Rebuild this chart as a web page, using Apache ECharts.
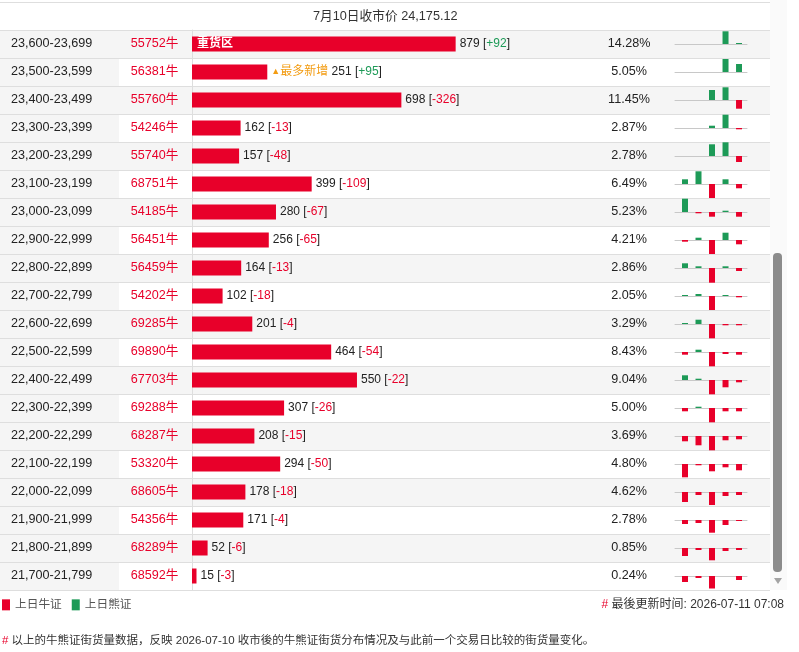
<!DOCTYPE html>
<html><head><meta charset="utf-8">
<script src="https://cdn.jsdelivr.net/npm/echarts@6/dist/echarts.min.js"></script>
<style>html,body{margin:0;padding:0;background:#fff}#c{width:799px;height:652px}</style>
</head><body><div id="c"></div>
<script>
const ranges = ['23,600-23,699','23,500-23,599','23,400-23,499','23,300-23,399','23,200-23,299','23,100-23,199','23,000-23,099','22,900-22,999','22,800-22,899','22,700-22,799','22,600-22,699','22,500-22,599','22,400-22,499','22,300-22,399','22,200-22,299','22,100-22,199','22,000-22,099','21,900-21,999','21,800-21,899','21,700-21,799'];
const codes = ['55752牛','56381牛','55760牛','54246牛','55740牛','68751牛','54185牛','56451牛','56459牛','54202牛','69285牛','69890牛','67703牛','69288牛','68287牛','53320牛','68605牛','54356牛','68289牛','68592牛'];
const counts = [879,251,698,162,157,399,280,256,164,102,201,464,550,307,208,294,178,171,52,15];
const changes = [92,95,-326,-13,-48,-109,-67,-65,-13,-18,-4,-54,-22,-26,-15,-50,-18,-4,-6,-3];
const pcts = ['14.28%','5.05%','11.45%','2.87%','2.78%','6.49%','5.23%','4.21%','2.86%','2.05%','3.29%','8.43%','9.04%','5.00%','3.69%','4.80%','4.62%','2.78%','0.85%','0.24%'];
const tags = ['重货区','最多新增','','','','','','','','','','','','','','','','','',''];
const spark = [
 [0,0,0,12.7,1],
 [0,0,0,13,8],
 [0,0,10,12.7,-8.7],
 [0,0,2.3,13.3,-1.3],
 [0,0,11.7,13.7,-6],
 [4.7,12.7,-14,4.7,-4.3],
 [13.3,-1.3,-4.7,1.3,-4.7],
 [-1.7,2.3,-14,7.3,-4.3],
 [4.7,1.7,-14.7,1.7,-3],
 [1,2,-14,1,-1.3],
 [1,4.3,-14.3,-1.3,-1.3],
 [-2.7,2.3,-14.3,-2,-2.7],
 [4.7,1.3,-14.3,-7.3,-2.3],
 [-3.3,1.3,-14.3,-3.3,-3.3],
 [-5.3,-9.3,-14.3,-4.3,-3.3],
 [-13.3,-1.3,-7.3,-3.3,-6.3],
 [-10,-3,-13,-4,-3],
 [-4,-3,-12.7,-5,-1],
 [-8,-2,-12.3,-3,-2],
 [-6,-2,-12.5,0,-4]
];
const headerText = '7月10日收市价 24,175.12';
const legendNames = ['上日牛证','上日熊证'];
const updateText = '最後更新时间: 2026-07-11 07:08';
const noteText = '以上的牛熊证街货量数据，反映 2026-07-10 收市後的牛熊证街货分布情况及与此前一个交易日比较的街货量变化。';

const RED = '#e8002a', GREEN = '#1d9a57', LINE = '#dedede', GRAY = '#f5f5f5';
const FONT = 'Arial, "Liberation Sans", "Noto Sans CJK SC", sans-serif';
const TOP = 30, ROWH = 28, N = ranges.length;

const chart = echarts.init(document.getElementById('c'), null, {renderer:'canvas'});
const hidden = {show:false};
const grids = [], xAxes = [], yAxes = [], series = [];

// header grid
grids.push({left:0, top:2, width:770, height:28, show:false});
xAxes.push({gridIndex:0, type:'value', show:false});
yAxes.push({gridIndex:0, type:'category', data:['h'], axisLine:hidden, axisTick:hidden, axisLabel:hidden,
  splitLine:{show:true, interval:0, lineStyle:{color:LINE}}});

// column 1 (ranges)
grids.push({left:0, top:TOP, width:119, height:ROWH*N, show:true, backgroundColor:GRAY, borderWidth:0});
xAxes.push({gridIndex:1, type:'value', show:false});
yAxes.push({gridIndex:1, type:'category', inverse:true, data:ranges, axisLine:hidden, axisTick:hidden,
  axisLabel:{inside:true, margin:11, align:'left', interval:0, fontSize:12.6, color:'#222', fontFamily:FONT},
  splitLine:{show:true, interval:0, lineStyle:{color:LINE}}});

// column 2 (codes)
grids.push({left:119, top:TOP, width:73, height:ROWH*N});
xAxes.push({gridIndex:2, type:'value', show:false});
yAxes.push({gridIndex:2, type:'category', inverse:true, data:codes, axisLine:hidden, axisTick:hidden,
  axisLabel:{inside:true, margin:35.5, align:'center', interval:0, fontSize:12.6, color:RED, fontFamily:FONT},
  splitArea:{show:true, interval:0, areaStyle:{color:[GRAY,'#ffffff']}},
  splitLine:{show:true, interval:0, lineStyle:{color:LINE}}});

// main grid
grids.push({left:192, top:TOP, width:578, height:ROWH*N});
xAxes.push({gridIndex:3, type:'value', min:0, max:1927, show:false});
yAxes.push({gridIndex:3, type:'category', inverse:true, data:ranges, axisLine:{show:true, lineStyle:{color:LINE}}, axisTick:hidden, axisLabel:hidden,
  splitArea:{show:true, interval:0, areaStyle:{color:[GRAY,'#ffffff']}},
  splitLine:{show:true, interval:0, lineStyle:{color:LINE}}});
yAxes.push({gridIndex:3, type:'category', inverse:true, position:'right', data:pcts, axisLine:hidden, axisTick:hidden,
  axisLabel:{inside:true, margin:141, align:'center', interval:0, fontSize:12.6, color:'#222', fontFamily:FONT},
  splitLine:hidden});

function fmtChange(c){ return c > 0 ? '{pos|+' + c + '}' : '{neg|' + c + '}'; }
series.push({type:'bar', name:'街货', xAxisIndex:3, yAxisIndex:3, data:counts, barWidth:15, barGap:'-100%',
  itemStyle:{color:RED}, silent:true,
  label:{show:true, position:'right', distance:4, fontSize:12, color:'#222', fontFamily:FONT,
    formatter:p => (tags[p.dataIndex]==='最多新增' ? '{tri|▲}{tag|最多新增} ' : '') + counts[p.dataIndex] + ' [' + fmtChange(changes[p.dataIndex]) + ']',
    rich:{pos:{color:GREEN, fontSize:12, fontFamily:FONT}, neg:{color:RED, fontSize:12, fontFamily:FONT},
      tri:{color:'#f39c12', fontSize:9, fontFamily:FONT}, tag:{color:'#f39c12', fontSize:12, fontFamily:FONT}}}});
series.push({type:'bar', name:'标记', xAxisIndex:3, yAxisIndex:3, data:counts, barWidth:15, barGap:'-100%',
  itemStyle:{color:'rgba(0,0,0,0)'}, silent:true,
  label:{show:true, position:'insideLeft', distance:5, fontSize:12, fontWeight:'bold', color:'#fff', fontFamily:FONT,
    formatter:p => tags[p.dataIndex]==='重货区' ? '重货区' : ''}});

// sparklines
for (let k = 0; k < N; k++) {
  const gi = 4 + k;
  grids.push({left:675, top:TOP + ROWH*k + 14 - 15, width:72, height:30});
  xAxes.push({gridIndex:gi, type:'value', min:0.26, max:5.59, axisLine:{show:true, onZero:true, lineStyle:{color:'#c8c8c8'}},
    axisTick:hidden, axisLabel:hidden, splitLine:hidden});
  yAxes.push({gridIndex:gi, type:'value', min:-15, max:15, show:false});
  const yi = yAxes.length - 1, xi = xAxes.length - 1;
  series.push({type:'bar', name:legendNames[0], xAxisIndex:xi, yAxisIndex:yi, stack:'s'+k, barWidth:6, silent:true,
    itemStyle:{color:RED}, data:spark[k].map((v,j)=>[j+1, v<0 ? v : '-'])});
  series.push({type:'bar', name:legendNames[1], xAxisIndex:xi, yAxisIndex:yi, stack:'s'+k, barWidth:6, silent:true,
    itemStyle:{color:GREEN}, data:spark[k].map((v,j)=>[j+1, v>0 ? v : '-'])});
}

chart.setOption({
  animation:false,
  textStyle:{fontFamily:FONT},
  title:[
    {text:headerText, left:308, top:5, textStyle:{fontSize:12.7, fontWeight:'normal', color:'#333', fontFamily:FONT}},
    {text:'{h|#} ' + updateText, right:10, top:594, textStyle:{fontSize:12, fontWeight:'normal', color:'#333', fontFamily:FONT,
      rich:{h:{color:RED, fontSize:12, fontFamily:FONT}}}},
    {text:'{h|#} ' + noteText, left:-3, top:630, textStyle:{fontSize:11.5, fontWeight:'normal', color:'#333', fontFamily:FONT,
      rich:{h:{color:RED, fontSize:11.5, fontFamily:FONT}}}}
  ],
  legend:{data:legendNames.map(n=>({name:n, icon:'rect'})), left:-3, top:594, itemWidth:8, itemHeight:11, itemGap:10,
    selectedMode:false, textStyle:{fontSize:11.7, color:'#555', fontFamily:FONT}},
  grid:grids, xAxis:xAxes, yAxis:yAxes, series:series,
  graphic:[
    {type:'rect', shape:{x:770, y:0, width:17, height:590}, style:{fill:'#fafafa'}, z:-1, silent:true},
    {type:'rect', shape:{x:773, y:253, width:9, height:319, r:4}, style:{fill:'#8c8c8c'}, silent:true},
    {type:'polygon', shape:{points:[[774,578],[782,578],[778,584]]}, style:{fill:'#a3a3a3'}, silent:true}
  ]
});
</script></body></html>
